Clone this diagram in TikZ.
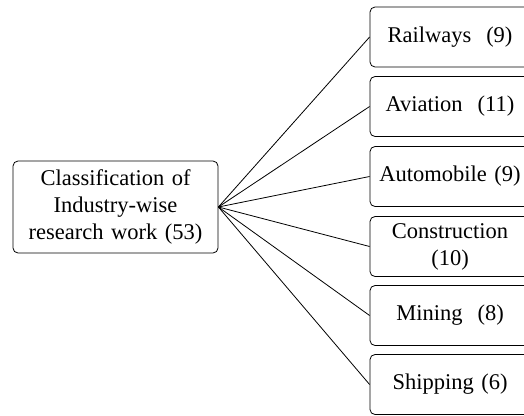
\documentclass[tikz,border=0pt]{standalone}
\usepackage{fontspec}
\setmainfont{Liberation Serif}
\begin{document}
\begin{tikzpicture}[x=1pt,y=-1pt,
  box/.style={draw,line width=0.8pt,rounded corners=5pt,inner sep=0pt,
    align=center,font=\fontsize{22.5}{27}\selectfont},
  leaf/.style={box,minimum width=160pt,minimum height=60pt,text width=158pt}]
  \useasboundingbox (0,0) rectangle (524,415);
  \clip (0,0) rectangle (524,415);
  \node [box,minimum width=205pt,minimum height=92pt,text width=200pt] (root) at (115.5,207)
    {Classification of\\Industry-wise\\research work (53)};
  \node [leaf] (rail)   at (450,37)    {Railways\ \ (9)};
  \node [leaf] (avia)   at (450,106.5) {Aviation\ \ (11)};
  \node [leaf] (auto)   at (450,176.5) {Automobile (9)};
  \node [leaf] (constr) at (450,246.5) {Construction\\(10)};
  \node [leaf] (mine)   at (450,315.5) {Mining\ \ (8)};
  \node [leaf] (ship)   at (450,384.5) {Shipping (6)};
  \draw [line width=0.8pt] (root.east) -- (rail.west);
  \draw [line width=0.8pt] (root.east) -- (avia.west);
  \draw [line width=0.8pt] (root.east) -- (auto.west);
  \draw [line width=0.8pt] (root.east) -- (constr.west);
  \draw [line width=0.8pt] (root.east) -- (mine.west);
  \draw [line width=0.8pt] (root.east) -- (ship.west);
\end{tikzpicture}
\end{document}
